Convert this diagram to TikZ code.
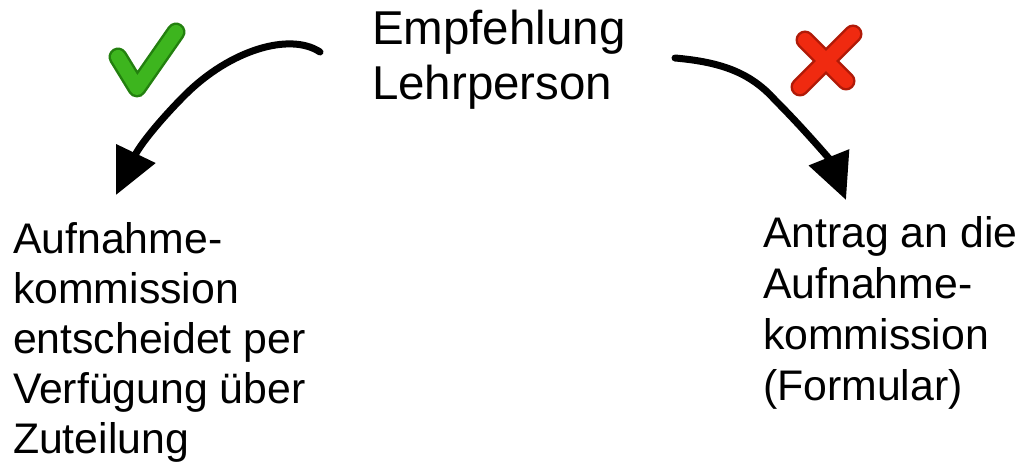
\documentclass[tikz,border=0pt]{standalone}
\usepackage{fontspec}
\setmainfont{Liberation Sans}
\usetikzlibrary{arrows.meta}
\definecolor{chkgreen}{HTML}{3DB51E}
\definecolor{chkdark}{HTML}{23800F}
\definecolor{xred}{HTML}{F02A10}
\definecolor{xdark}{HTML}{B01A08}
\tikzset{
  lbl/.style={inner sep=0pt, outer sep=0pt, anchor=north west, align=left,
    font=\fontsize{42.8}{50}\selectfont},
  hand/.style={line width=7pt, line cap=round, line join=round,
    -{Triangle[length=46pt,width=42pt]}},
  iconout/.style={line width=19pt, line cap=round, line join=round},
  iconin/.style={line width=14pt, line cap=round, line join=round}
}
\begin{document}
\begin{tikzpicture}[x=1pt,y=-1pt]
\useasboundingbox (0,0) rectangle (1021,468);
\node[lbl, font=\fontsize{47.5}{55}\selectfont] (top) at (372,10) {Empfehlung\\Lehrperson};
\node[lbl] (left) at (13,222.5) {Aufnahme-\\kommission\\entscheidet per\\Verfügung über\\Zuteilung};
\node[lbl, font=\fontsize{42.8}{51}\selectfont] (right) at (763,216.5) {Antrag an die\\Aufnahme-\\kommission\\(Formular)};
% connectors
\coordinate (ls) at (320,52);
\coordinate (lm) at (185,95);
\coordinate (le) at (116,195);
\coordinate (rs) at (675,58);
\coordinate (rm) at (775,100);
\coordinate (re) at (846,200);
\draw[hand] (ls) .. controls (290,32) and (230,50) .. (lm)
  .. controls (160,120) and (140,145) .. (le);
\draw[hand] (rs) .. controls (720,62) and (750,72) .. (rm)
  .. controls (805,130) and (830,160) .. (re);
% check mark
\draw[iconout, draw=chkdark] (118,57) -- (137,88) -- (176,32);
\draw[iconin, draw=chkgreen] (118,57) -- (137,88) -- (176,32);
% red cross
\draw[iconout, draw=xdark] (805,40) -- (846,81) (853,34) -- (800,87);
\draw[iconin, draw=xred] (805,40) -- (846,81) (853,34) -- (800,87);
\end{tikzpicture}
\end{document}
